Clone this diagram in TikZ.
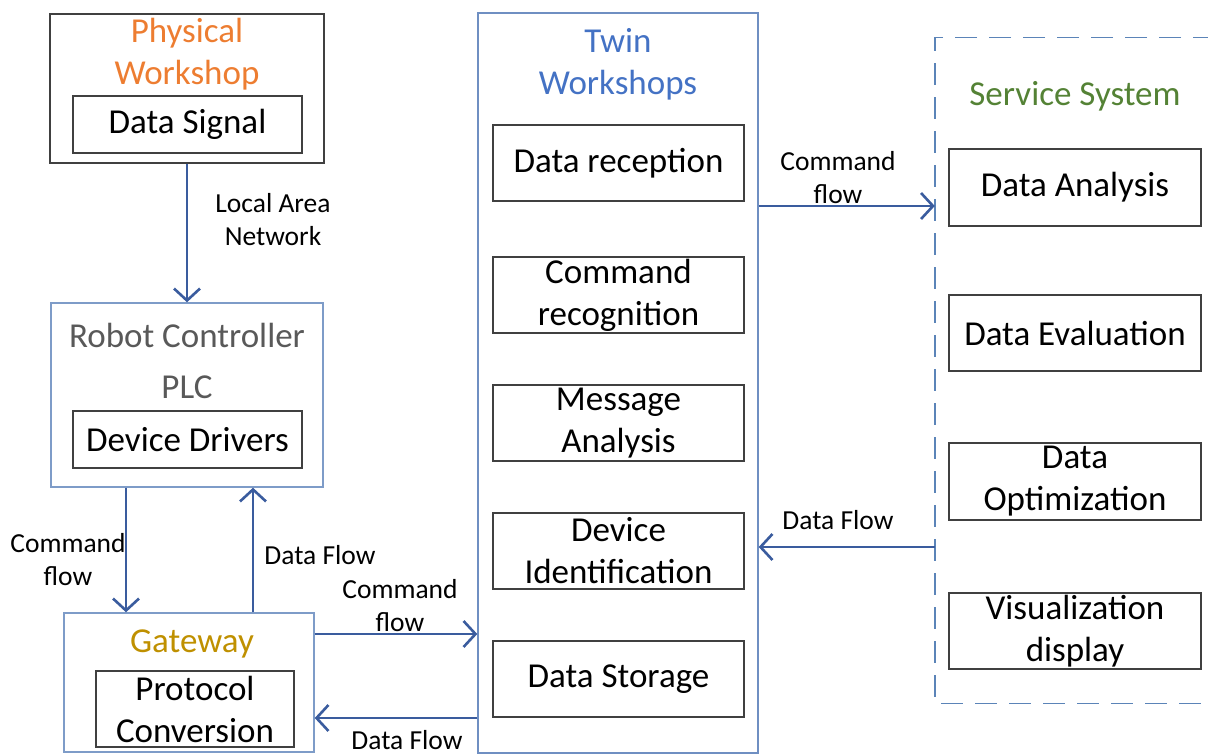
\documentclass[tikz,border=0pt]{standalone}
\usepackage{fontspec}
\setmainfont{Carlito}
\usetikzlibrary{arrows.meta,calc}

\definecolor{pworange}{HTML}{ED7D31}
\definecolor{twinblue}{HTML}{4472C4}
\definecolor{svcgreen}{HTML}{548235}
\definecolor{gwgold}{HTML}{BF9000}
\definecolor{ctrlgray}{HTML}{595959}
\definecolor{flowblue}{HTML}{3A5C9E}
\definecolor{frameblue}{HTML}{7E9CC8}
\definecolor{twinframe}{HTML}{6F8FC2}
\definecolor{dashblue}{HTML}{5B84B8}
\definecolor{boxgray}{HTML}{404040}

\tikzset{
  bigtext/.style={font=\fontsize{35}{42}\selectfont, align=center},
  labeltext/.style={font=\fontsize{27.5}{33}\selectfont, align=center, inner sep=0pt},
  itembox/.style={draw=boxgray, line width=1.4pt, inner sep=0pt, bigtext},
  container/.style={draw=frameblue, line width=1.4pt, inner sep=0pt},
  flow/.style={draw=flowblue, line width=2.6pt,
    -{Straight Barb[length=12pt, width=26pt, line width=2.6pt]}},
}

\begin{document}
\begin{tikzpicture}[x=1pt, y=-1pt]
\useasboundingbox (0,0) rectangle (1208,754);

% ---------- physical workshop ----------
\node[draw=boxgray, line width=1.4pt, minimum width=274pt, minimum height=149pt, inner sep=0pt]
  (phys) at (187,88.5) {};
\node[bigtext, text=pworange] (physT) at (187,54) {Physical\\Workshop};
\node[itembox, minimum width=229pt, minimum height=57pt] (sig) at (187.5,124.5) {Data Signal};

% ---------- robot controller ----------
\node[container, minimum width=272pt, minimum height=184pt] (robot) at (187,395) {};
\node[bigtext, text=ctrlgray, font=\fontsize{35}{51}\selectfont] (robotT) at (187,361) {Robot Controller\\PLC};
\node[itembox, minimum width=229pt, minimum height=57pt] (drv) at (187.5,439.5) {Device Drivers};

% ---------- gateway ----------
\node[container, minimum width=250pt, minimum height=139pt] (gw) at (189,682.5) {};
\node[bigtext, text=gwgold] (gwT) at (192,644) {Gateway};
\node[itembox, minimum width=198pt, minimum height=76pt] (conv) at (195,709) {Protocol\\Conversion};

% ---------- twin workshops ----------
\node[draw=twinframe, line width=1.4pt, inner sep=0pt, minimum width=280pt, minimum height=740pt]
  (twin) at (618,383) {};
\node[bigtext, text=twinblue] (twinT) at (618,64) {Twin\\Workshops};
\node[itembox, minimum width=251pt, minimum height=76pt] (rec)  at (618.5,163) {Data reception};
\node[itembox, minimum width=251pt, minimum height=76pt] (cmd)  at (618.5,295) {Command\\recognition};
\node[itembox, minimum width=251pt, minimum height=76pt] (msg)  at (618.5,423) {Message\\Analysis};
\node[itembox, minimum width=251pt, minimum height=76pt] (dev)  at (618.5,551) {Device\\Identification};
\node[itembox, minimum width=251pt, minimum height=76pt] (stor) at (618.5,679) {Data Storage};

% ---------- service system (dashed frame runs past the right edge) ----------
\node[inner sep=0pt, minimum width=280pt, minimum height=665pt] (svc) at (1075,370.5) {};
\draw[draw=dashblue, line width=1.4pt, dash pattern=on 22pt off 12pt]
  (svc.north east) -- (svc.north west) -- (svc.south west) -- (svc.south east);
\node[bigtext, text=svcgreen] (svcT) at (1075,96) {Service System};
\node[itembox, minimum width=252pt, minimum height=77pt] (ana) at (1075,187.5) {Data Analysis};
\node[itembox, minimum width=252pt, minimum height=76pt] (eva) at (1075,333) {Data Evaluation};
\node[itembox, minimum width=252pt, minimum height=77pt] (opt) at (1075,481.5) {Data\\Optimization};
\node[itembox, minimum width=252pt, minimum height=76pt] (vis) at (1075,631) {Visualization\\display};

% ---------- connector guide coordinates ----------
\coordinate (xdown) at (126,0);
\coordinate (xup)   at (253,0);
\coordinate (ygwout) at (0,634);
\coordinate (ygwin)  at (0,718);
\coordinate (ysvcout) at (0,206);
\coordinate (ysvcin)  at (0,547);

% ---------- connectors ----------
\draw[flow] (phys.south) -- (robot.north);
\draw[flow] (robot.south -| xdown) -- (gw.north -| xdown);
\draw[flow] (gw.north -| xup) -- (robot.south -| xup);
\draw[flow] (gw.east |- ygwout) -- (twin.west |- ygwout);
\draw[flow] (twin.west |- ygwin) -- (gw.east |- ygwin);
\draw[flow] (twin.east |- ysvcout) -- (svc.west |- ysvcout);
\draw[flow] (svc.west |- ysvcin) -- (twin.east |- ysvcin);

% ---------- connector labels ----------
\node[labeltext] (lan)   at (273,220) {Local Area\\Network};
\node[labeltext] (cf1)   at (68,560)  {Command\\flow};
\node[labeltext] (df1)   at (320,555) {Data Flow};
\node[labeltext] (cf2)   at (400,606) {Command\\flow};
\node[labeltext] (df2)   at (407,740) {Data Flow};
\node[labeltext] (cf3)   at (838,178) {Command\\flow};
\node[labeltext] (df3)   at (838,520) {Data Flow};
\end{tikzpicture}
\end{document}
